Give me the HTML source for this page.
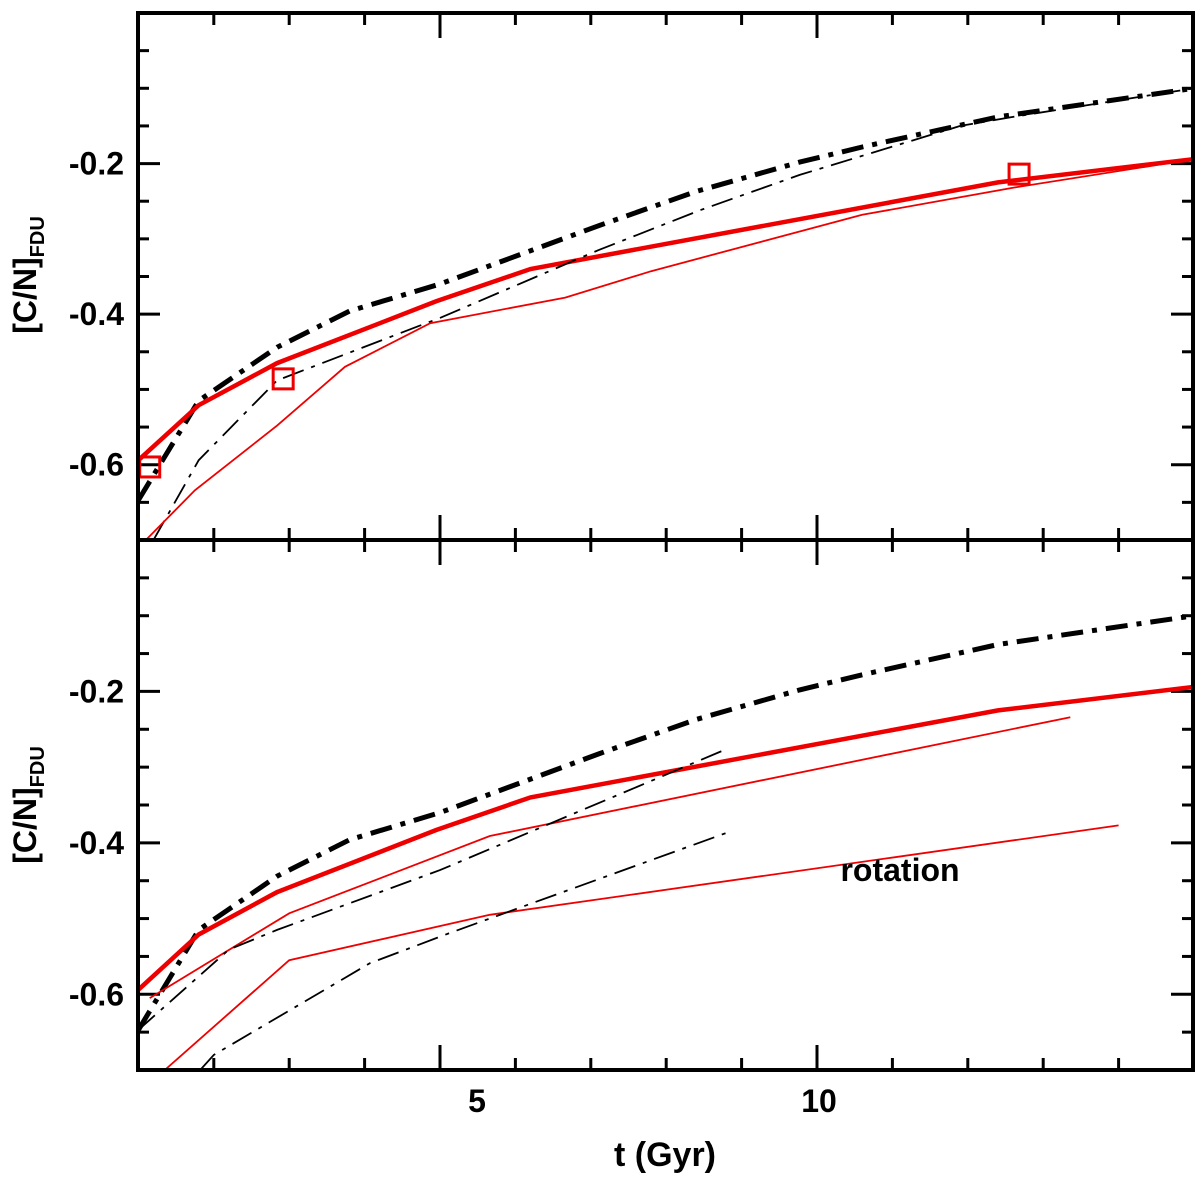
<!DOCTYPE html>
<html><head><meta charset="utf-8"><style>
body{margin:0;background:#fff}
svg{display:block}
text{font-family:"Liberation Sans",sans-serif;font-weight:bold;fill:#000}
</style></head><body>
<svg id="chart" width="1200" height="1181" viewBox="0 0 1200 1181" xmlns="http://www.w3.org/2000/svg">
<g id="plot"></g>
<text x="665" y="1166" font-size="34" text-anchor="middle">t (Gyr)</text>
<text transform="translate(36,275) rotate(-90)" font-size="32" text-anchor="middle">[C/N]<tspan font-size="20" dy="8">FDU</tspan></text>
<text transform="translate(36,805) rotate(-90)" font-size="32" text-anchor="middle">[C/N]<tspan font-size="20" dy="8">FDU</tspan></text>
<text x="900" y="881" font-size="32" text-anchor="middle">rotation</text>
</svg>
<script>
// data arrays
const thickBlackT=[1.0,1.8,2.84,3.8,5.0,7.12,8.4,9.77,10.6,12.4,15];
const thickBlackY=[-0.647,-0.515,-0.444,-0.396,-0.36,-0.282,-0.237,-0.198,-0.178,-0.138,-0.1];
const thickRedT=[1.0,1.8,2.84,4.95,6.2,12.4,15];
const thickRedY=[-0.594,-0.521,-0.465,-0.383,-0.34,-0.225,-0.194];
const topThinBlackT=[1.2,1.8,2.84,5.0,7.1,8.45,9.77,11.9,12.6,15];
const topThinBlackY=[-0.7,-0.594,-0.488,-0.405,-0.315,-0.262,-0.215,-0.15,-0.138,-0.1];
const topThinRedT=[1.1,1.75,2.84,3.74,4.87,6.66,7.8,10.6,12.6,15];
const topThinRedY=[-0.7,-0.634,-0.548,-0.47,-0.412,-0.378,-0.343,-0.268,-0.232,-0.194];
const squareT=[1.15,2.92,12.68];
const squareY=[-0.603,-0.486,-0.214];
const botRed1T=[1.15,3.0,5.66,13.36];
const botRed1Y=[-0.605,-0.493,-0.391,-0.234];
const botRed2T=[1.35,3.0,5.66,14.0];
const botRed2Y=[-0.7,-0.555,-0.495,-0.377];
const botBlack1T=[1.0,2.2,2.84,5.0,8.78];
const botBlack1Y=[-0.647,-0.541,-0.515,-0.436,-0.277];
const botBlack2T=[1.82,2.0,4.07,5.13,8.85];
const botBlack2Y=[-0.7,-0.68,-0.559,-0.519,-0.385];
const yTickLabels=["-0.2","-0.4","-0.6"];
const yTickValues=[-0.2,-0.4,-0.6];
const xTickLabels=["5","10"];

const X0=138,X1=1193;
const panels=[{top:13,bot:540},{top:540,bot:1070}];
const xs=t=>440+(t-5)*75.4;
const ysF=p=>v=>p.top+(-v)*(p.bot-p.top)/0.7;
const NS="http://www.w3.org/2000/svg";
const g=document.getElementById('plot');
function mk(tag,attrs){const e=document.createElementNS(NS,tag);for(const k in attrs)e.setAttribute(k,attrs[k]);g.appendChild(e);return e;}
function line(T,Y,ys,color,w,dash,name){
  const pts=T.map((t,i)=>xs(t).toFixed(1)+','+ys(Y[i]).toFixed(1)).join(' ');
  const e=mk('polyline',{points:pts,fill:'none',stroke:color,'stroke-width':w,'stroke-dasharray':dash||'none','clip-path':'url(#c'+name.slice(-1)+')'});
  
  
}
const defs=mk('defs',{});
panels.forEach((p,i)=>{
  const cp=document.createElementNS(NS,'clipPath');cp.setAttribute('id','c'+i);
  const r=document.createElementNS(NS,'rect');r.setAttribute('x',X0);r.setAttribute('y',p.top);r.setAttribute('width',X1-X0);r.setAttribute('height',p.bot-p.top);
  cp.appendChild(r);defs.appendChild(cp);
});
panels.forEach((p,pi)=>{
  const ys=ysF(p);
  for(let k=1;k<14;k++){
    const v=-k*0.05; const y=ys(v); const maj=(k%4===0);
    const L=maj?22:11;
    let e=mk('line',{x1:X0,x2:X0+L,y1:y,y2:y,stroke:'#000','stroke-width':3});
    
    e=mk('line',{x1:X1,x2:X1-L,y1:y,y2:y,stroke:'#000','stroke-width':3});
    
  }
  for(let t=2;t<15;t++){
    const x=xs(t);const maj=(t%5===0);const L=maj?25:12;
    let e=mk('line',{x1:x,x2:x,y1:p.bot,y2:p.bot-L,stroke:'#000','stroke-width':3});
    
    e=mk('line',{x1:x,x2:x,y1:p.top,y2:p.top+L,stroke:'#000','stroke-width':3});
    
  }
  yTickValues.forEach((v,i)=>{
    const e=mk('text',{x:124,y:ys(v)+11,'font-size':32,'text-anchor':'end'});
    e.textContent=yTickLabels[i];
    
  });
  line(thickBlackT,thickBlackY,ys,'#000',5,'22 9 5 9','thick-black-dashdot-'+pi);
  line(thickRedT,thickRedY,ys,'#e00',4.5,null,'thick-red-line-'+pi);
  if(pi===0){
    line(topThinBlackT,topThinBlackY,ys,'#000',1.8,'22 8 4 8','thin-black-dashdot-0');
    line(topThinRedT,topThinRedY,ys,'#e00',1.8,null,'thin-red-line-0');
    squareT.forEach((t,i)=>{
      const e=mk('rect',{x:xs(t)-10,y:ys(squareY[i])-10,width:20,height:20,fill:'none',stroke:'#e00','stroke-width':3});
      
    });
  } else {
    line(botRed1T,botRed1Y,ys,'#e00',1.8,null,'thin-red-a-1');
    line(botRed2T,botRed2Y,ys,'#e00',1.8,null,'thin-red-b-1');
    line(botBlack1T,botBlack1Y,ys,'#000',1.8,'22 8 4 8','thin-black-a-1');
    line(botBlack2T,botBlack2Y,ys,'#000',1.8,'22 8 4 8','thin-black-b-1');
  }
  const fr=mk('rect',{x:X0,y:p.top,width:X1-X0,height:p.bot-p.top,fill:'none',stroke:'#000','stroke-width':4});
  
});
[477,819].forEach((x,i)=>{
  const e=mk('text',{x:x,y:1112,'font-size':32,'text-anchor':'middle'});
  e.textContent=xTickLabels[i];
  
});
</script>
</body></html>
